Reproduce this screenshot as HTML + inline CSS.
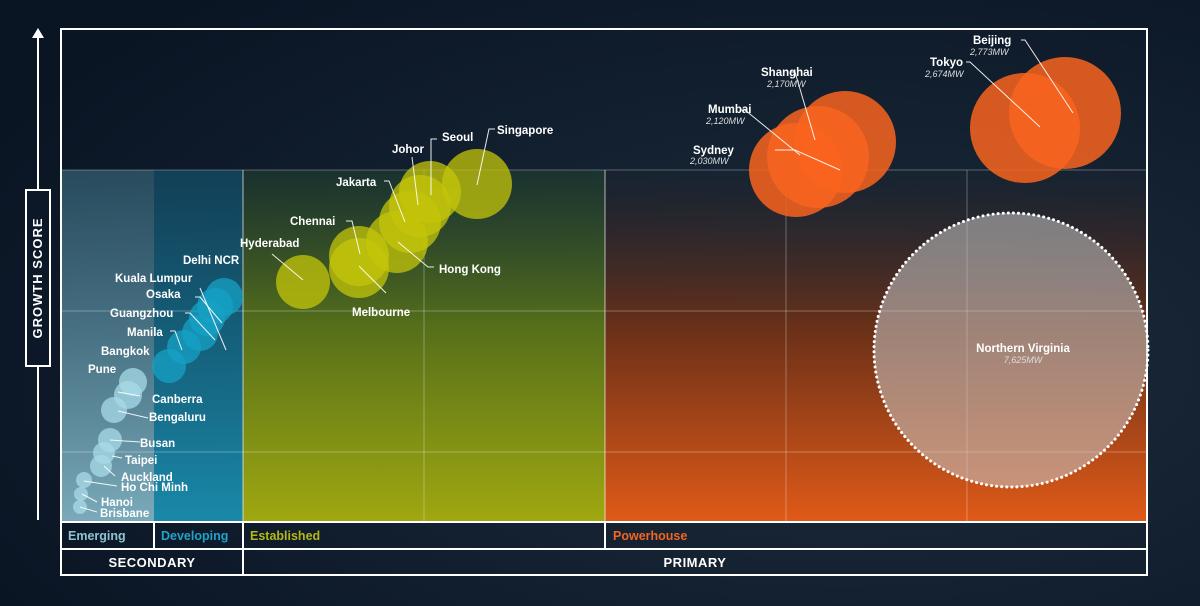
<!DOCTYPE html>
<html><head><meta charset="utf-8"><style>
html,body{margin:0;padding:0;background:#0c1828;}
svg{display:block}
text{font-family:"Liberation Sans",sans-serif;font-weight:bold;fill:#fff;font-size:11.5px}
.mw{font-style:italic;font-weight:normal;font-size:9px;fill:#ddd}
</style></head><body>
<svg width="1200" height="606" viewBox="0 0 1200 606" xmlns="http://www.w3.org/2000/svg">
<defs>
<radialGradient id="bg" cx="0.7" cy="0.6" r="0.8"><stop offset="0" stop-color="#1c2c3c"/><stop offset="1" stop-color="#0a1524"/></radialGradient>
<linearGradient id="gb" x1="0" y1="0" x2="0" y2="1"><stop offset="0" stop-color="#13506a" stop-opacity="0.7"/><stop offset="1" stop-color="#1a8fb0" stop-opacity="0.95"/></linearGradient>
<linearGradient id="ge" x1="0" y1="0" x2="0" y2="1"><stop offset="0" stop-color="#4a8aa0" stop-opacity="0.45"/><stop offset="1" stop-color="#8ec4d4" stop-opacity="0.85"/></linearGradient>
<linearGradient id="gg" x1="0" y1="0" x2="0" y2="1"><stop offset="0" stop-color="#1d3a30" stop-opacity="0.7"/><stop offset="0.45" stop-color="#56701a"/><stop offset="1" stop-color="#a0a810"/></linearGradient>
<linearGradient id="go" x1="0" y1="0" x2="0" y2="1"><stop offset="0" stop-color="#1c2430" stop-opacity="0.4"/><stop offset="0.45" stop-color="#6a3018"/><stop offset="1" stop-color="#e05a18"/></linearGradient>
</defs>
<rect width="1200" height="606" fill="url(#bg)"/>
<rect x="61" y="170" width="93" height="352" fill="url(#ge)"/>
<rect x="154" y="170" width="89" height="352" fill="url(#gb)"/>
<rect x="243" y="170" width="362" height="352" fill="url(#gg)"/>
<rect x="605" y="170" width="542" height="352" fill="url(#go)"/>
<g stroke="#ffffff" stroke-opacity="0.3" stroke-width="1">
<line x1="61" y1="170" x2="1147" y2="170"/><line x1="61" y1="311" x2="1147" y2="311"/><line x1="61" y1="452" x2="1147" y2="452"/>
<line x1="424" y1="170" x2="424" y2="522"/><line x1="786" y1="170" x2="786" y2="522"/><line x1="967" y1="170" x2="967" y2="522"/>
</g>
<g stroke="#fff" stroke-width="2" fill="none">
<rect x="61" y="29" width="1086" height="546"/>
<line x1="61" y1="522" x2="1147" y2="522"/><line x1="61" y1="549" x2="1147" y2="549"/>
<line x1="243" y1="522" x2="243" y2="575"/><line x1="605" y1="522" x2="605" y2="549"/><line x1="154" y1="522" x2="154" y2="549"/>
<line x1="38" y1="36" x2="38" y2="520"/>
</g>
<g stroke="#fff" stroke-opacity="0.55" stroke-width="1.2"><line x1="243" y1="170" x2="243" y2="522"/><line x1="605" y1="170" x2="605" y2="522"/></g>
<polygon points="38,28 32,38 44,38" fill="#fff"/>
<rect x="26" y="190" width="24" height="176" fill="#0c1828" stroke="#fff" stroke-width="2"/>
<text x="42" y="278" transform="rotate(-90 42 278)" text-anchor="middle" style="font-size:13px;letter-spacing:1px">GROWTH SCORE</text>
<text x="68" y="540" style="fill:#8ec4d4;font-size:12.5px">Emerging</text>
<text x="161" y="540" style="fill:#1fa3c8;font-size:12.5px">Developing</text>
<text x="250" y="540" style="fill:#b4b814;font-size:12.5px">Established</text>
<text x="613" y="540" style="fill:#f26522;font-size:12.5px">Powerhouse</text>
<text x="152" y="567" text-anchor="middle" style="font-size:13px;letter-spacing:0.5px">SECONDARY</text>
<text x="695" y="567" text-anchor="middle" style="font-size:13px;letter-spacing:0.5px">PRIMARY</text>
<circle cx="1011" cy="350" r="137" fill="#c8c8c8" fill-opacity="0.55" stroke="#fff" stroke-width="3" stroke-dasharray="0.1 5" stroke-linecap="round"/>
<text x="1023" y="352" text-anchor="middle">Northern Virginia</text><text x="1023" y="363" text-anchor="middle" class="mw">7,625MW</text>
<g fill="#a8dbe8" fill-opacity="0.75">
<circle cx="80" cy="507" r="7"/><circle cx="81" cy="494" r="7"/><circle cx="84" cy="480" r="8"/><circle cx="101" cy="466" r="11"/><circle cx="104" cy="453" r="11"/><circle cx="110" cy="440" r="12"/><circle cx="114" cy="410" r="13"/><circle cx="128" cy="395" r="14"/><circle cx="133" cy="382" r="14"/>
</g>
<g fill="#15a2c6" fill-opacity="0.75">
<circle cx="169" cy="366" r="17"/><circle cx="184" cy="347" r="17"/><circle cx="200" cy="333" r="18"/><circle cx="207" cy="318" r="18"/><circle cx="215" cy="306" r="18"/><circle cx="224" cy="297" r="19"/>
</g>
<g fill="#c4c60a" fill-opacity="0.75">
<circle cx="303" cy="282" r="27"/><circle cx="359" cy="268" r="30"/><circle cx="359" cy="256" r="30"/><circle cx="397" cy="242" r="31"/><circle cx="410" cy="222" r="31"/><circle cx="420" cy="206" r="31"/><circle cx="430" cy="192" r="31"/><circle cx="477" cy="184" r="35"/>
</g>
<g fill="#f9641e" fill-opacity="0.85">
<circle cx="796" cy="170" r="47"/><circle cx="818" cy="157" r="51"/><circle cx="845" cy="142" r="51"/><circle cx="1025" cy="128" r="55"/><circle cx="1065" cy="113" r="56"/>
</g>
<g stroke="#fff" stroke-width="1" fill="none" stroke-opacity="0.9">
<polyline points="775,150 795,150 840,170" /><polyline points="741,110 745,110 800,155"/><polyline points="791,72 795,72 815,140"/><polyline points="966,62 970,62 1040,127"/><polyline points="1021,40 1025,40 1073,113"/>
<polyline points="200,288 226,350"/><polyline points="195,297 200,297 222,323"/><polyline points="185,313 190,313 215,340"/><polyline points="170,331 175,331 182,350"/><polyline points="140,396 118,392"/><polyline points="148,418 118,411"/><polyline points="140,442 110,440"/><polyline points="122,458 112,456"/><polyline points="115,476 104,466"/><polyline points="117,486 84,481"/><polyline points="97,502 82,494"/><polyline points="97,512 80,507"/>
<polyline points="272,254 303,280"/><polyline points="346,221 352,221 360,254"/><polyline points="386,293 359,266"/><polyline points="434,267 428,267 398,242"/><polyline points="384,181 389,181 405,222"/><polyline points="412,157 418,205"/><polyline points="437,139 431,139 431,195"/><polyline points="495,129 489,129 477,185"/>
</g>
<text x="973" y="44">Beijing</text><text x="970" y="55" class="mw">2,773MW</text>
<text x="930" y="66">Tokyo</text><text x="925" y="77" class="mw">2,674MW</text>
<text x="761" y="76">Shanghai</text><text x="767" y="87" class="mw">2,170MW</text>
<text x="708" y="113">Mumbai</text><text x="706" y="124" class="mw">2,120MW</text>
<text x="693" y="154">Sydney</text><text x="690" y="164" class="mw">2,030MW</text>
<text x="183" y="264">Delhi NCR</text><text x="115" y="282">Kuala Lumpur</text><text x="146" y="298">Osaka</text><text x="110" y="317">Guangzhou</text><text x="127" y="336">Manila</text><text x="101" y="355">Bangkok</text><text x="88" y="373">Pune</text><text x="152" y="403">Canberra</text><text x="149" y="421">Bengaluru</text><text x="140" y="447">Busan</text><text x="125" y="464">Taipei</text><text x="121" y="481">Auckland</text><text x="121" y="491">Ho Chi Minh</text><text x="101" y="506">Hanoi</text><text x="100" y="517">Brisbane</text>
<text x="240" y="247">Hyderabad</text><text x="290" y="225">Chennai</text><text x="336" y="186">Jakarta</text><text x="392" y="153">Johor</text><text x="442" y="141">Seoul</text><text x="497" y="134">Singapore</text><text x="439" y="273">Hong Kong</text><text x="352" y="316">Melbourne</text>
</svg>
</body></html>
